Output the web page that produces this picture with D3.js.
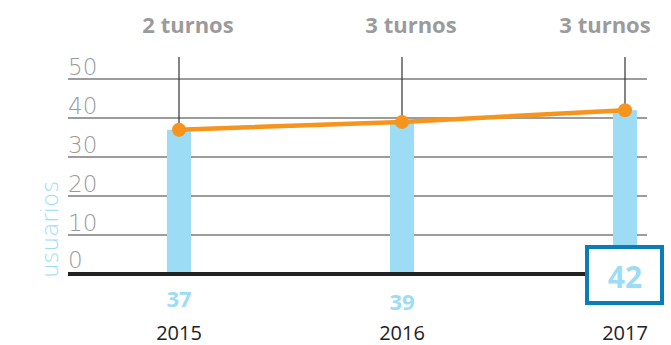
<!DOCTYPE html>
<html>
<head>
<meta charset="utf-8">
<script src="https://cdn.jsdelivr.net/npm/d3@7"></script>
<style>
  html, body { margin: 0; padding: 0; background: #fff; }
  svg { display: block; }
  text { font-family: "Open Sans", Lato, sans-serif; }
  .light { font-family: "DejaVu Sans", "Open Sans", sans-serif; font-weight: 200; }
</style>
</head>
<body>
<svg id="chart" width="671" height="345"></svg>
<script>
// Users per year, with the number of shifts offered
const years = ["2015", "2016", "2017"];
const usuarios = [37, 39, 42];
const turnos = ["2 turnos", "3 turnos", "3 turnos"];
const yTicks = [0, 10, 20, 30, 40, 50];
const axisTitle = "usuarios";

const W = 671, H = 345;
const margin = { left: 68, right: 24, top: 79, bottom: 71 };
const svg = d3.select("#chart");

const x = d3.scalePoint()
  .domain(years)
  .range([179, 625]);

const y = d3.scaleLinear()
  .domain([0, 50])
  .range([H - margin.bottom, margin.top]);

const gridRight = W - margin.right;

// horizontal gridlines
svg.append("g")
  .selectAll("line")
  .data(yTicks.filter(d => d > 0))
  .join("line")
  .attr("x1", margin.left)
  .attr("x2", gridRight)
  .attr("y1", d => y(d))
  .attr("y2", d => y(d))
  .attr("stroke", "#3a3a3a")
  .attr("stroke-width", 1.2);

// tick labels, sitting above each gridline
svg.append("g")
  .selectAll("text")
  .data(yTicks)
  .join("text")
  .attr("class", "light")
  .attr("x", margin.left)
  .attr("y", d => y(d) - (d === 0 ? 6 : 4))
  .attr("fill", "#9b9b9b")
  .attr("font-size", 23)
  .text(d => d);

// axis title
svg.append("text")
  .attr("class", "light")
  .attr("transform", `translate(${58},${y(0) + 4}) rotate(-90)`)
  .attr("fill", "#9ddcf5")
  .attr("font-size", 23)
  .text(axisTitle);

// bars
const barW = 24;
svg.append("g")
  .selectAll("rect")
  .data(years)
  .join("rect")
  .attr("x", d => x(d) - barW / 2)
  .attr("width", barW)
  .attr("y", (d, i) => y(usuarios[i]))
  .attr("height", (d, i) => y(0) - y(usuarios[i]))
  .attr("fill", "#9ddcf5");

// vertical markers from the shift labels down to each point
svg.append("g")
  .selectAll("line")
  .data(years)
  .join("line")
  .attr("x1", d => x(d))
  .attr("x2", d => x(d))
  .attr("y1", 57)
  .attr("y2", (d, i) => y(usuarios[i]))
  .attr("stroke", "#333")
  .attr("stroke-width", 1.2);

// baseline
svg.append("line")
  .attr("x1", margin.left)
  .attr("x2", gridRight)
  .attr("y1", y(0))
  .attr("y2", y(0))
  .attr("stroke", "#222")
  .attr("stroke-width", 4);

// trend line and points
const line = d3.line()
  .x((d, i) => x(years[i]))
  .y(d => y(d));

svg.append("path")
  .datum(usuarios)
  .attr("d", line)
  .attr("fill", "none")
  .attr("stroke", "#f7941d")
  .attr("stroke-width", 4.5);

svg.append("g")
  .selectAll("circle")
  .data(usuarios)
  .join("circle")
  .attr("cx", (d, i) => x(years[i]))
  .attr("cy", d => y(d))
  .attr("r", 7)
  .attr("fill", "#f7941d");

// shift labels at the top
svg.append("g")
  .selectAll("text")
  .data(turnos)
  .join("text")
  .attr("x", (d, i) => Math.min(x(years[i]) + 9, W - 66))
  .attr("y", 33)
  .attr("text-anchor", "middle")
  .attr("fill", "#9b9b9b")
  .attr("font-size", 22)
  .attr("font-weight", 700)
  .text(d => d);

// value labels under the bars; the latest year is boxed
const last = years.length - 1;
svg.append("g")
  .selectAll("text")
  .data(usuarios.slice(0, last))
  .join("text")
  .attr("x", (d, i) => x(years[i]))
  .attr("y", (d, i) => 307 + i * 3)
  .attr("text-anchor", "middle")
  .attr("fill", "#9ddcf5")
  .attr("font-size", 22)
  .attr("font-weight", 700)
  .text(d => d);

const bx = x(years[last]);
svg.append("rect")
  .attr("x", bx - 38)
  .attr("y", 247)
  .attr("width", 75)
  .attr("height", 56)
  .attr("fill", "#fff")
  .attr("stroke", "#0b7db6")
  .attr("stroke-width", 4);

svg.append("text")
  .attr("x", bx)
  .attr("y", 288)
  .attr("text-anchor", "middle")
  .attr("fill", "#9ddcf5")
  .attr("font-size", 30)
  .attr("font-weight", 700)
  .text(usuarios[last]);

// year labels
svg.append("g")
  .selectAll("text")
  .data(years)
  .join("text")
  .attr("x", d => x(d))
  .attr("y", 340)
  .attr("text-anchor", "middle")
  .attr("fill", "#222")
  .attr("font-size", 20)
  .text(d => d);
</script>
</body>
</html>
